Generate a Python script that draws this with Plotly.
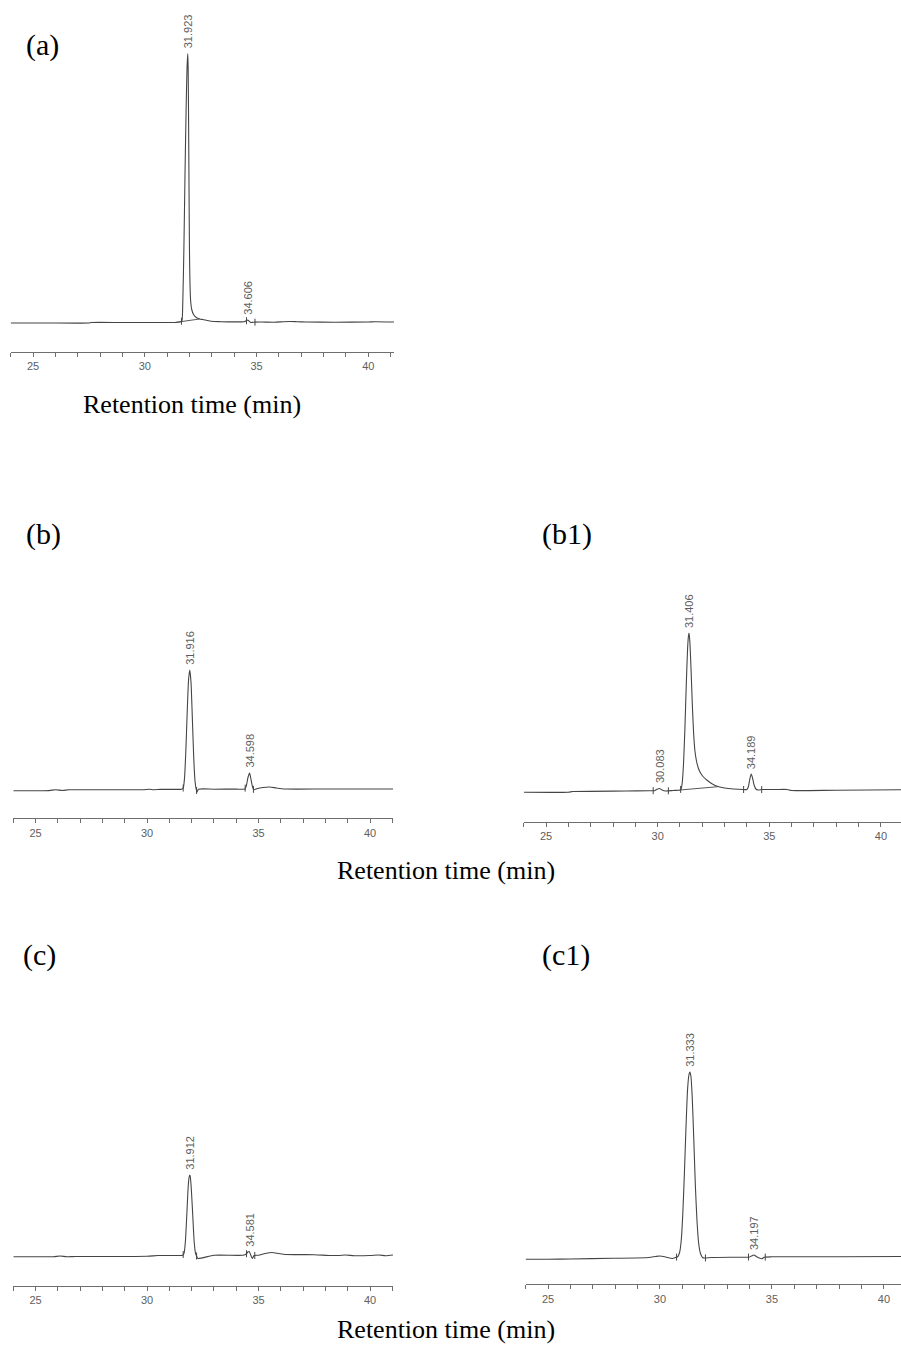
import numpy as np
import plotly.graph_objects as go

# ---------------- chromatogram data (retention time in min, detector response in mV) ----------------
# (a)
a_time = [24.0, 25.5, 27.5, 27.6, 29.0, 30.5, 31.35, 31.55, 31.62, 31.66, 31.70, 31.75, 31.80, 31.85,
          31.89, 31.923, 31.94, 31.96, 31.98, 32.00, 32.02, 32.05, 32.10, 32.18, 32.30, 32.45, 32.60,
          32.80, 33.10, 33.40, 34.00, 34.45, 34.55, 34.606, 34.66, 34.75, 34.85, 35.20, 35.80, 36.20,
          36.50, 36.80, 37.20, 38.50, 40.00, 40.30, 41.15]
a_signal = [-0.5, -0.5, -0.5, 0.0, 0.0, 0.0, 0.0, 0.5, 1.0, 1.5, 20, 75, 150, 215,
            255, 269, 255, 200, 130, 70, 40, 22, 13, 8, 5, 3.5, 3.0,
            2.0, 1.0, 0.8, 0.6, 0.8, 1.8, 2.5, 1.5, 0.0, 0.3, 0.5, 0.3, 0.8,
            1.0, 0.8, 0.5, 0.3, 0.5, 0.8, 0.5]
a_base_time = [31.35, 32.45]
a_base_signal = [0.0, 3.5]
a_events = [31.64, 34.55, 34.93]
a_peaks = [31.923, 34.606]

# (b)
b_time = [24.0, 25.6, 25.9, 26.2, 26.5, 28.0, 29.8, 30.1, 30.3, 30.6, 31.3, 31.55, 31.62, 31.68,
          31.74, 31.80, 31.86, 31.916, 31.97, 32.03, 32.09, 32.15, 32.20, 32.24, 32.30, 33.0, 34.0,
          34.38, 34.45, 34.52, 34.598, 34.65, 34.72, 34.78, 34.85, 35.2, 35.5, 35.8, 36.2, 38.0,
          40.0, 41.03]
b_signal = [-0.7, -0.6, 0.3, -0.5, 0.2, 0.2, 0.3, 0.8, 0.3, 0.6, 0.6, 0.8, 2, 12,
            40, 78, 110, 120, 108, 72, 34, 9, 1, -2, 0.8, 0.8, 0.9,
            1, 4, 12, 17, 12, 4, 0, 0.8, 2.5, 3, 2, 1, 1,
            1, 1]
b_events = [31.62, 32.22, 34.40, 34.77]
b_peaks = [31.916, 34.598]

# (b1)
b1_time = [24.0, 26.0, 26.2, 28.6, 29.6, 29.85, 29.95, 30.083, 30.2, 30.35, 30.7, 31.0, 31.05,
           31.10, 31.16, 31.22, 31.28, 31.34, 31.38, 31.406, 31.44, 31.49, 31.55, 31.61, 31.67,
           31.74, 31.82, 31.92, 32.05, 32.2, 32.45, 32.7, 33.0, 33.4, 33.8, 34.0, 34.06, 34.12,
           34.189, 34.25, 34.32, 34.40, 34.5, 34.7, 35.3, 35.8, 36.0, 38.0, 40.9]
b1_signal = [-1.3, -1.2, -0.5, 0.0, 0.3, 0.3, 1.5, 2.5, 1.0, 0.0, 0.5, 1.0, 2.0,
             8, 28, 62, 105, 142, 155, 158, 150, 125, 88, 58, 40,
             30, 23, 18, 14, 11, 7, 4.5, 3.0, 2.0, 1.5, 1.5, 4, 11,
             17, 13, 6, 2, 1, 1.5, 1.5, 1.5, 0.5, 0.8, 1.2]
b1_base_time = [31.0, 32.7]
b1_base_signal = [1.0, 4.3]
b1_events = [29.8, 30.48, 31.03, 33.85, 34.66]
b1_peaks = [30.083, 31.406, 34.189]

# (c)
c_time = [24.0, 25.8, 26.1, 26.4, 26.8, 28.0, 30.0, 30.5, 31.3, 31.6, 31.66, 31.72, 31.78, 31.84,
          31.88, 31.912, 31.94, 31.99, 32.05, 32.11, 32.17, 32.22, 32.28, 33.0, 34.3, 34.45, 34.52,
          34.581, 34.64, 34.72, 34.80, 35.0, 35.3, 35.6, 35.9, 36.2, 37.5, 38.2, 38.6, 38.9, 39.3,
          40.0, 40.4, 40.7, 41.03]
c_signal = [-0.7, -0.7, 0.0, -0.8, -0.5, -0.5, -0.3, 0.5, 0.5, 0.8, 3, 15, 40, 68,
            78, 81, 79, 65, 40, 15, 3, 0, -2.5, 0.8, 0.8, 2, 4,
            4.5, 1.5, -2.5, 0.5, 0.8, 2.5, 3.5, 2.5, 1.5, 1.3, 0.5, 0.5, 1.0, 0.3,
            0.5, 1.0, 0.3, 1.0]
c_events = [31.62, 32.22, 34.46, 34.83]
c_peaks = [31.912, 34.581]

# (c1)
c1_time = [24.0, 25.0, 26.0, 27.9, 29.5, 29.8, 30.0, 30.25, 30.55, 30.7, 30.8, 30.88, 30.95,
           31.02, 31.09, 31.16, 31.23, 31.29, 31.333, 31.38, 31.44, 31.51, 31.58, 31.65, 31.72,
           31.80, 31.90, 32.0, 32.3, 33.5, 34.0, 34.08, 34.197, 34.30, 34.40, 34.55, 34.65, 35.0,
           38.0, 40.76]
c1_signal = [-1.3, -1.2, -1.0, -0.3, 0.5, 1.5, 2.0, 1.0, -0.5, 0.5, 1.5, 6, 18,
             45, 85, 130, 168, 183, 186, 182, 160, 118, 72, 38, 16,
             5, 0.5, 0.0, 0.5, 0.8, 1.0, 2.0, 3.0, 1.5, 0.3, -0.8, 0.8, 1.2,
             1.3, 1.5]
c1_events = [30.74, 32.03, 33.95, 34.7]
c1_peaks = [31.333, 34.197]

# axis ticks
tick_values = list(range(24, 42))
tick_labels = ["25", "30", "35", "40"]

# ---------------- figure layout ----------------
W, H = 901, 1354
LINE = "#454545"
AXIS = "#6e6e6e"
LABEL_GREY = "#5e5e5e"
SANS = "Liberation Sans, Arial, sans-serif"
SERIF = "Liberation Serif, Times New Roman, serif"

# per panel: data, pixel box (left, right, axis line, top), baseline pixel, x range end
panels = [
    dict(name="(a)", t=a_time, s=a_signal, bt=a_base_time, bs=a_base_signal, ev=a_events, pk=a_peaks,
         box=(10.7, 394.0, 351.5, 5.0), base=322.5, xmax=41.15),
    dict(name="(b)", t=b_time, s=b_signal, bt=None, bs=None, ev=b_events, pk=b_peaks,
         box=(13.3, 393.0, 818.3, 600.0), base=790.0, xmax=41.03),
    dict(name="(b1)", t=b1_time, s=b1_signal, bt=b1_base_time, bs=b1_base_signal, ev=b1_events, pk=b1_peaks,
         box=(523.7, 901.0, 821.7, 600.0), base=791.0, xmax=40.9),
    dict(name="(c)", t=c_time, s=c_signal, bt=None, bs=None, ev=c_events, pk=c_peaks,
         box=(13.3, 393.0, 1286.0, 1050.0), base=1256.0, xmax=41.03),
    dict(name="(c1)", t=c1_time, s=c1_signal, bt=None, bs=None, ev=c1_events, pk=c1_peaks,
         box=(525.6, 901.0, 1284.3, 1050.0), base=1258.0, xmax=40.76),
]

fig = go.Figure()
annotations = []

for i, p in enumerate(panels, start=1):
    xa = "x" if i == 1 else f"x{i}"
    ya = "y" if i == 1 else f"y{i}"
    left, right, axis_px, top_px = p["box"]

    fig.add_trace(go.Scatter(x=p["t"], y=p["s"], mode="lines", xaxis=xa, yaxis=ya,
                             line=dict(color=LINE, width=1.1, shape="spline", smoothing=0.6),
                             showlegend=False, hoverinfo="skip"))
    if p["bt"] is not None:
        fig.add_trace(go.Scatter(x=p["bt"], y=p["bs"], mode="lines", xaxis=xa, yaxis=ya,
                                 line=dict(color=LINE, width=0.9),
                                 showlegend=False, hoverinfo="skip"))
    # integration event marks
    ev_y = np.interp(p["ev"], p["t"], p["s"])
    fig.add_trace(go.Scatter(x=p["ev"], y=ev_y, mode="markers", xaxis=xa, yaxis=ya,
                             marker=dict(symbol="line-ns", size=5, line=dict(color=LINE, width=1)),
                             showlegend=False, hoverinfo="skip"))

    # peak retention-time labels
    for rt in p["pk"]:
        h = float(np.interp(rt, p["t"], p["s"]))
        annotations.append(dict(x=rt, y=h, xref=xa, yref=ya, text=f"{rt:.3f}",
                                textangle=-90, showarrow=False, xanchor="center", yanchor="bottom",
                                yshift=3, font=dict(family=SANS, size=11, color=LABEL_GREY)))

    gap = axis_px - p["base"]
    height = axis_px - top_px
    fig.update_layout({
        ("xaxis" if i == 1 else f"xaxis{i}"): dict(
            domain=[left / W, right / W], anchor=ya, range=[24, p["xmax"]],
            tickmode="array", tickvals=tick_values,
            ticktext=[str(v) if str(v) in tick_labels else "" for v in tick_values],
            ticks="outside", ticklen=4, tickwidth=1, tickcolor=AXIS,
            showline=True, linecolor=AXIS, linewidth=1, showgrid=False, zeroline=False,
            tickfont=dict(family=SANS, size=11, color=LABEL_GREY), fixedrange=True),
        ("yaxis" if i == 1 else f"yaxis{i}"): dict(
            domain=[1 - axis_px / H, 1 - top_px / H], anchor=xa, range=[-gap, height - gap],
            visible=False, fixedrange=True),
    })

# panel letters
for text, x, y in [("(a)", 24, 45), ("(b)", 24, 534), ("(b1)", 540, 534), ("(c)", 21, 955), ("(c1)", 540, 955)]:
    annotations.append(dict(x=x / W, y=1 - y / H, xref="paper", yref="paper", text=text, showarrow=False,
                            xanchor="left", yanchor="middle", font=dict(family=SERIF, size=30, color="black")))

# x-axis titles
for x, y in [(192, 405), (446, 870), (446, 1329)]:
    annotations.append(dict(x=x / W, y=1 - y / H, xref="paper", yref="paper", text="Retention time (min)",
                            showarrow=False, xanchor="center", yanchor="middle",
                            font=dict(family=SERIF, size=26, color="black")))

fig.update_layout(width=W, height=H, margin=dict(l=0, r=0, t=0, b=0),
                  paper_bgcolor="white", plot_bgcolor="white", annotations=annotations)

fig.write_html("out.html", config={"displayModeBar": False})
